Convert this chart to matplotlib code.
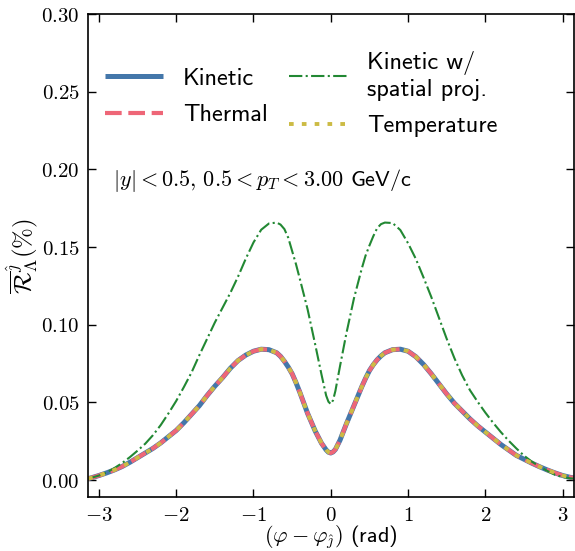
import matplotlib
matplotlib.use("Agg")
import matplotlib.pyplot as plt
from matplotlib.ticker import FuncFormatter, MultipleLocator
import numpy as np

plt.rcParams['font.family'] = 'cmss10'
plt.rcParams['mathtext.fontset'] = 'cm'
plt.rcParams['axes.unicode_minus'] = False

# azimuthal angle relative to jet axis (rad)
phi = [-3.14, -3.1, -3.0, -2.9, -2.8, -2.7, -2.6, -2.5, -2.4, -2.3, -2.2, -2.1,
       -2.0, -1.9, -1.8, -1.7, -1.6, -1.5, -1.4, -1.3, -1.2, -1.1, -1.0, -0.9,
       -0.8, -0.7, -0.65, -0.6, -0.55, -0.5, -0.45, -0.4, -0.3, -0.2, -0.12, -0.06, -0.03, 0.0,
       0.03, 0.06, 0.12, 0.2, 0.3, 0.4, 0.45, 0.5, 0.55, 0.6, 0.65, 0.7, 0.8, 0.9, 1.0, 1.1,
       1.2, 1.3, 1.4, 1.5, 1.6, 1.7, 1.8, 1.9, 2.0, 2.1, 2.2, 2.3,
       2.4, 2.5, 2.6, 2.7, 2.8, 2.9, 3.0, 3.1, 3.14]

kinetic = [0.0010, 0.0015, 0.0030, 0.0047, 0.0066, 0.0088, 0.0115, 0.0145, 0.0175, 0.0205, 0.0240, 0.0280,
           0.0320, 0.0370, 0.0425, 0.0480, 0.0545, 0.0605, 0.0660, 0.0720, 0.0770, 0.0805, 0.0830, 0.0843,
           0.0840, 0.0820, 0.0797, 0.0765, 0.0728, 0.0685, 0.0628, 0.0565, 0.0430, 0.0315, 0.0238, 0.0195, 0.0180, 0.0175,
           0.0182, 0.0198, 0.0258, 0.0360, 0.0480, 0.0600, 0.0655, 0.0705, 0.0743, 0.0775, 0.0800, 0.0820, 0.0840, 0.0843, 0.0830, 0.0795,
           0.0745, 0.0685, 0.0620, 0.0555, 0.0495, 0.0445, 0.0395, 0.0350, 0.0310, 0.0270, 0.0230, 0.0195,
           0.0160, 0.0135, 0.0110, 0.0087, 0.0066, 0.0047, 0.0030, 0.0018, 0.0015]

# thermal and temperature curves coincide with the kinetic one within line width
thermal = list(kinetic)
temperature = list(kinetic)

kinetic_proj = [0.0008, 0.0015, 0.0030, 0.0050, 0.0078, 0.0110, 0.0148, 0.0190, 0.0235, 0.0290, 0.0355, 0.0430,
                0.0510, 0.0600, 0.0695, 0.0805, 0.0910, 0.1015, 0.1110, 0.1205, 0.1310, 0.1425, 0.1530, 0.1612,
                0.1652, 0.1658, 0.1645, 0.1616, 0.1560, 0.1475, 0.1390, 0.1295, 0.1100, 0.0870, 0.0680, 0.0545, 0.0505, 0.0490,
                0.0515, 0.0575, 0.0735, 0.0940, 0.1170, 0.1360, 0.1445, 0.1510, 0.1570, 0.1622, 0.1648, 0.1658, 0.1655, 0.1610, 0.1525, 0.1425,
                0.1305, 0.1180, 0.1045, 0.0910, 0.0785, 0.0675, 0.0580, 0.0505, 0.0435, 0.0370, 0.0310, 0.0255,
                0.0205, 0.0158, 0.0120, 0.0088, 0.0060, 0.0035, 0.0020, 0.0012, 0.0010]

fig = plt.figure(figsize=(5.75, 5.51), dpi=100)
ax = fig.add_axes([0.153, 0.0975, 0.8445, 0.877])

l1, = ax.plot(phi, kinetic, color='#4477AA', lw=3.6, solid_capstyle='butt',
              solid_joinstyle='round', label='Kinetic')
l2, = ax.plot(phi, thermal, color='#EE6677', lw=3.0, ls=(0, (4, 1.6)), label='Thermal')
l3, = ax.plot(phi, kinetic_proj, color='#228833', lw=1.5, ls='-.', label='Kinetic w/\nspatial proj.')
l4, = ax.plot(phi, temperature, color='#CCBB44', lw=2.8, ls=(0, (1.2, 2.1)), label='Temperature')

ax.set_xlim(-np.pi, np.pi)
ax.set_ylim(-0.011, 0.30)
ax.xaxis.set_major_locator(MultipleLocator(1))
ax.yaxis.set_major_locator(MultipleLocator(0.05))
ax.xaxis.set_major_formatter(FuncFormatter(lambda v, p: r'$\mathrm{%d}$' % round(v)))
ax.yaxis.set_major_formatter(FuncFormatter(lambda v, p: r'$\mathrm{%.2f}$' % v))
ax.tick_params(direction='in', top=True, right=True, length=5.5, width=1.0, labelsize=15, pad=6)
for s in ax.spines.values():
    s.set_linewidth(1.2)

ax.set_xlabel(r'$(\varphi - \varphi_{\hat{\jmath}})$ (rad)', fontsize=16, labelpad=-1)
ax.set_ylabel(r'$\overline{\mathcal{R}}^{\hat{\jmath}}_{\Lambda}(\%)$', fontsize=18, labelpad=1)

ax.text(0.052, 0.656, r'$|y| < 0.5,\, 0.5 < p_T < 3.00$ GeV/c', transform=ax.transAxes,
        fontsize=16, va='center', ha='left')

ax.legend(handles=[l1, l2, l3, l4], ncol=2, frameon=False, fontsize=17.5,
          loc='upper left', bbox_to_anchor=(-0.01, 0.968), handlelength=2.4,
          columnspacing=0.9, labelspacing=0.6)

fig.savefig('out.png', dpi=100)
